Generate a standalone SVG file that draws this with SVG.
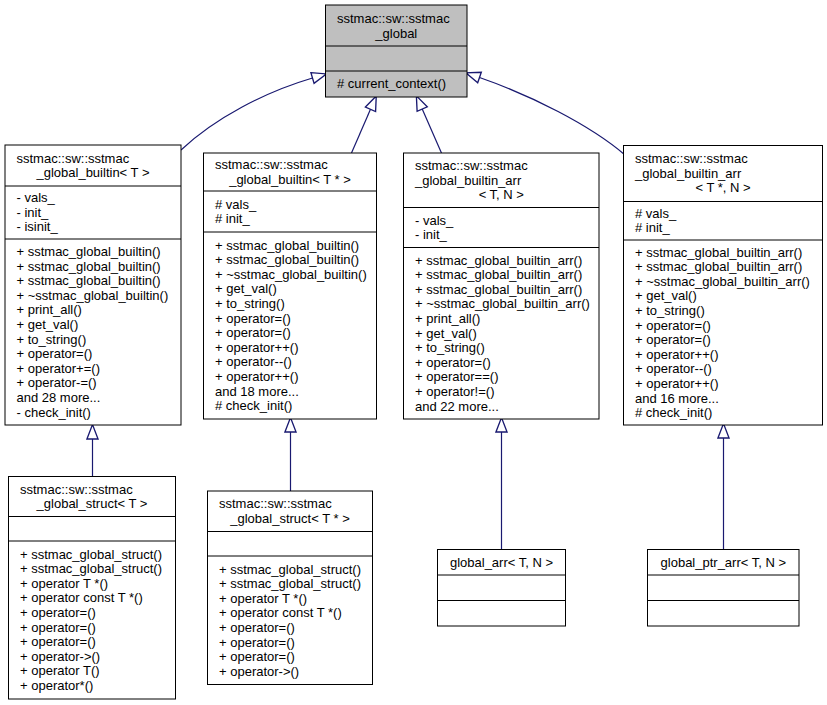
<svg xmlns="http://www.w3.org/2000/svg" width="827" height="705" viewBox="0 0 827 705">
<defs>
<style>
.box{fill:#ffffff;stroke:#000000;stroke-width:1}
.root{fill:#bfbfbf;stroke:#000000;stroke-width:1}
.div{stroke:#000000;stroke-width:1}
text{font-family:"Liberation Sans",Arial,Helvetica,sans-serif;font-size:13px;fill:#000000}
.c{text-anchor:middle}
.edge{fill:none;stroke:#191970;stroke-width:1.2}
</style>
<marker id="tri" markerUnits="userSpaceOnUse" markerWidth="20" markerHeight="20" refX="0" refY="0" viewBox="-2 -8 18 16" orient="auto" overflow="visible">
<path d="M0,-5 L13,0 L0,5 Z" fill="#ffffff" stroke="#191970" stroke-width="1.2"/>
</marker>
</defs>
<rect width="827" height="705" fill="#ffffff"/>

<g id="connectors">
<path class="edge" marker-end="url(#tri)" d="M181,150 C215,118 265,92 312.5,78"/>
<path class="edge" marker-end="url(#tri)" d="M351.5,153 L370.5,109.3"/>
<path class="edge" marker-end="url(#tri)" d="M441.5,153 L422.2,109.1"/>
<path class="edge" marker-end="url(#tri)" d="M625,155 C590,125 530,95 479.5,77.5"/>
<path class="edge" marker-end="url(#tri)" d="M92.5,476.5 L92.5,439"/>
<path class="edge" marker-end="url(#tri)" d="M290.5,491 L290.5,432"/>
<path class="edge" marker-end="url(#tri)" d="M501.5,549.5 L501.5,432"/>
<path class="edge" marker-end="url(#tri)" d="M723.5,549.5 L723.5,438"/>
</g>

<g id="sstmac_global">
<rect class="root" x="325.5" y="5" width="141.5" height="92"/>
<line class="div" x1="325.5" y1="46" x2="467" y2="46"/>
<line class="div" x1="325.5" y1="71" x2="467" y2="71"/>
<text x="337" y="23">sstmac::sw::sstmac</text>
<text class="c" x="396.3" y="37.6">_global</text>
<text x="337" y="88.3"># current_context()</text>
</g>

<g id="builtin_T">
<rect class="box" x="5" y="145" width="176" height="280"/>
<line class="div" x1="5" y1="186" x2="181" y2="186"/>
<line class="div" x1="5" y1="239" x2="181" y2="239"/>
<text x="16.5" y="162.5">sstmac::sw::sstmac</text>
<text class="c" x="93" y="177.1">_global_builtin&lt; T &gt;</text>
<text x="16.5" y="202.2">- vals_</text>
<text x="16.5" y="216.8">- init_</text>
<text x="16.5" y="231.4">- isinit_</text>
<text x="16.5" y="256">+ sstmac_global_builtin()</text>
<text x="16.5" y="270.6">+ sstmac_global_builtin()</text>
<text x="16.5" y="285.2">+ sstmac_global_builtin()</text>
<text x="16.5" y="299.8">+ ~sstmac_global_builtin()</text>
<text x="16.5" y="314.4">+ print_all()</text>
<text x="16.5" y="329">+ get_val()</text>
<text x="16.5" y="343.6">+ to_string()</text>
<text x="16.5" y="358.2">+ operator=()</text>
<text x="16.5" y="372.8">+ operator+=()</text>
<text x="16.5" y="387.4">+ operator-=()</text>
<text x="16.5" y="402">and 28 more...</text>
<text x="16.5" y="416.6">- check_init()</text>
</g>

<g id="builtin_Tptr">
<rect class="box" x="203.5" y="153" width="173" height="266"/>
<line class="div" x1="203.5" y1="191" x2="376.5" y2="191"/>
<line class="div" x1="203.5" y1="232" x2="376.5" y2="232"/>
<text x="215" y="169">sstmac::sw::sstmac</text>
<text class="c" x="290" y="183.6">_global_builtin&lt; T * &gt;</text>
<text x="215" y="208.5"># vals_</text>
<text x="215" y="223.1"># init_</text>
<text x="215" y="249.5">+ sstmac_global_builtin()</text>
<text x="215" y="264.1">+ sstmac_global_builtin()</text>
<text x="215" y="278.7">+ ~sstmac_global_builtin()</text>
<text x="215" y="293.3">+ get_val()</text>
<text x="215" y="307.9">+ to_string()</text>
<text x="215" y="322.5">+ operator=()</text>
<text x="215" y="337.1">+ operator=()</text>
<text x="215" y="351.7">+ operator++()</text>
<text x="215" y="366.3">+ operator--()</text>
<text x="215" y="380.9">+ operator++()</text>
<text x="215" y="395.5">and 18 more...</text>
<text x="215" y="410.1"># check_init()</text>
</g>

<g id="builtin_arr_T_N">
<rect class="box" x="403.5" y="153" width="195.5" height="266"/>
<line class="div" x1="403.5" y1="207.5" x2="599" y2="207.5"/>
<line class="div" x1="403.5" y1="247.5" x2="599" y2="247.5"/>
<text x="415" y="170">sstmac::sw::sstmac</text>
<text x="415" y="184.6">_global_builtin_arr</text>
<text class="c" x="501.3" y="199.2">&lt; T, N &gt;</text>
<text x="415" y="224.5">- vals_</text>
<text x="415" y="239.1">- init_</text>
<text x="415" y="264.5">+ sstmac_global_builtin_arr()</text>
<text x="415" y="279.1">+ sstmac_global_builtin_arr()</text>
<text x="415" y="293.7">+ sstmac_global_builtin_arr()</text>
<text x="415" y="308.3">+ ~sstmac_global_builtin_arr()</text>
<text x="415" y="322.9">+ print_all()</text>
<text x="415" y="337.5">+ get_val()</text>
<text x="415" y="352.1">+ to_string()</text>
<text x="415" y="366.7">+ operator=()</text>
<text x="415" y="381.3">+ operator==()</text>
<text x="415" y="395.9">+ operator!=()</text>
<text x="415" y="410.5">and 22 more...</text>
</g>

<g id="builtin_arr_Tptr_N">
<rect class="box" x="623.5" y="145.5" width="199" height="279.5"/>
<line class="div" x1="623.5" y1="201.5" x2="822.5" y2="201.5"/>
<line class="div" x1="623.5" y1="240" x2="822.5" y2="240"/>
<text x="635" y="163.2">sstmac::sw::sstmac</text>
<text x="635" y="177.8">_global_builtin_arr</text>
<text class="c" x="723" y="192.4">&lt; T *, N &gt;</text>
<text x="635" y="217.8"># vals_</text>
<text x="635" y="232.4"># init_</text>
<text x="635" y="256.5">+ sstmac_global_builtin_arr()</text>
<text x="635" y="271.1">+ sstmac_global_builtin_arr()</text>
<text x="635" y="285.7">+ ~sstmac_global_builtin_arr()</text>
<text x="635" y="300.3">+ get_val()</text>
<text x="635" y="314.9">+ to_string()</text>
<text x="635" y="329.5">+ operator=()</text>
<text x="635" y="344.1">+ operator=()</text>
<text x="635" y="358.7">+ operator++()</text>
<text x="635" y="373.3">+ operator--()</text>
<text x="635" y="387.9">+ operator++()</text>
<text x="635" y="402.5">and 16 more...</text>
<text x="635" y="417.1"># check_init()</text>
</g>

<g id="struct_T">
<rect class="box" x="8.5" y="476.5" width="167" height="222.5"/>
<line class="div" x1="8.5" y1="516.5" x2="175.5" y2="516.5"/>
<line class="div" x1="8.5" y1="541" x2="175.5" y2="541"/>
<text x="20" y="493.5">sstmac::sw::sstmac</text>
<text class="c" x="92" y="508.1">_global_struct&lt; T &gt;</text>
<text x="20" y="558.6">+ sstmac_global_struct()</text>
<text x="20" y="573.2">+ sstmac_global_struct()</text>
<text x="20" y="587.8">+ operator T *()</text>
<text x="20" y="602.4">+ operator const T *()</text>
<text x="20" y="617">+ operator=()</text>
<text x="20" y="631.6">+ operator=()</text>
<text x="20" y="646.2">+ operator=()</text>
<text x="20" y="660.8">+ operator-&gt;()</text>
<text x="20" y="675.4">+ operator T()</text>
<text x="20" y="690">+ operator*()</text>
</g>

<g id="struct_Tptr">
<rect class="box" x="207.5" y="491" width="165" height="193.5"/>
<line class="div" x1="207.5" y1="531.5" x2="372.5" y2="531.5"/>
<line class="div" x1="207.5" y1="556" x2="372.5" y2="556"/>
<text x="219" y="508.3">sstmac::sw::sstmac</text>
<text class="c" x="290" y="522.9">_global_struct&lt; T * &gt;</text>
<text x="219" y="573.5">+ sstmac_global_struct()</text>
<text x="219" y="588.1">+ sstmac_global_struct()</text>
<text x="219" y="602.7">+ operator T *()</text>
<text x="219" y="617.3">+ operator const T *()</text>
<text x="219" y="631.9">+ operator=()</text>
<text x="219" y="646.5">+ operator=()</text>
<text x="219" y="661.1">+ operator=()</text>
<text x="219" y="675.7">+ operator-&gt;()</text>
</g>

<g id="global_arr">
<rect class="box" x="437.5" y="549.5" width="128" height="76.5"/>
<line class="div" x1="437.5" y1="575" x2="565.5" y2="575"/>
<line class="div" x1="437.5" y1="600.5" x2="565.5" y2="600.5"/>
<text class="c" x="501.5" y="566.5">global_arr&lt; T, N &gt;</text>
</g>

<g id="global_ptr_arr">
<rect class="box" x="647.5" y="549.5" width="151.5" height="76.5"/>
<line class="div" x1="647.5" y1="575" x2="799" y2="575"/>
<line class="div" x1="647.5" y1="600.5" x2="799" y2="600.5"/>
<text class="c" x="723.3" y="566.5">global_ptr_arr&lt; T, N &gt;</text>
</g>
</svg>
